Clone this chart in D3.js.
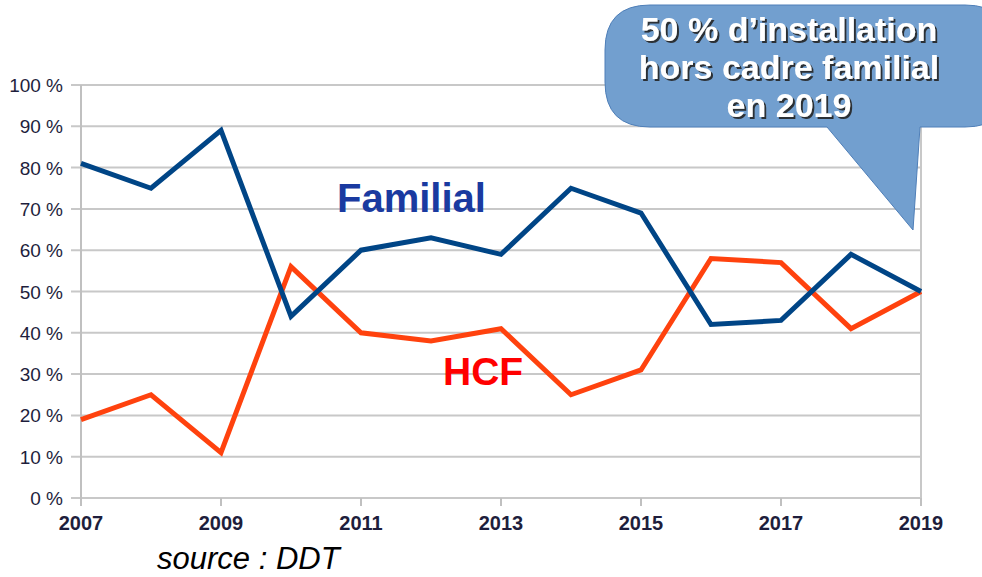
<!DOCTYPE html>
<html>
<head>
<meta charset="utf-8">
<script src="https://cdn.jsdelivr.net/npm/d3@7"></script>
<style>
  body { margin: 0; background: #fff; }
  svg { display: block; font-family: "Liberation Sans", Arial, sans-serif; }
</style>
</head>
<body>
<div id="container"></div>
<script>
// données
const years = [2007, 2008, 2009, 2010, 2011, 2012, 2013, 2014, 2015, 2016, 2017, 2018, 2019];
const familial = [81, 75, 89, 44, 60, 63, 59, 75, 69, 42, 43, 59, 50];
const hcf = [19, 25, 11, 56, 40, 38, 41, 25, 31, 58, 57, 41, 50];
const yTicks = [0, 10, 20, 30, 40, 50, 60, 70, 80, 90, 100];
const xTicks = [2007, 2009, 2011, 2013, 2015, 2017, 2019];
const calloutLines = ["50 % d\u2019installation", "hors cadre familial", "en 2019"];

// mise en page
const width = 982, height = 577;
const plot = { left: 81, right: 921, top: 85, bottom: 498 };

const x = d3.scaleLinear().domain([2007, 2019]).range([plot.left, plot.right]);
const y = d3.scaleLinear().domain([0, 100]).range([plot.bottom, plot.top]);

const svg = d3.select("#container").append("svg")
  .attr("width", width)
  .attr("height", height);

// ombre du texte de la bulle
svg.append("defs").append("filter")
  .attr("id", "ombre")
  .attr("x", "-5%").attr("y", "-20%")
  .attr("width", "110%").attr("height", "140%")
  .append("feDropShadow")
    .attr("dx", 2).attr("dy", 2)
    .attr("stdDeviation", 0.6)
    .attr("flood-color", "#222")
    .attr("flood-opacity", 0.9);

// grille horizontale
svg.append("g").selectAll("line")
  .data(yTicks)
  .enter().append("line")
    .attr("x1", plot.left - 10)
    .attr("x2", plot.right)
    .attr("y1", d => y(d))
    .attr("y2", d => y(d))
    .attr("stroke", "#c8c8c8")
    .attr("stroke-width", 2);

// axes verticaux (gauche et droite)
svg.append("line")
  .attr("x1", plot.left).attr("x2", plot.left)
  .attr("y1", plot.top).attr("y2", plot.bottom + 8)
  .attr("stroke", "#c0c0c0").attr("stroke-width", 2);
svg.append("line")
  .attr("x1", plot.right).attr("x2", plot.right)
  .attr("y1", plot.top).attr("y2", plot.bottom + 8)
  .attr("stroke", "#c8c8c8").attr("stroke-width", 2);

// graduations en x
svg.append("g").selectAll("line")
  .data(xTicks)
  .enter().append("line")
    .attr("x1", d => x(d)).attr("x2", d => x(d))
    .attr("y1", plot.bottom).attr("y2", plot.bottom + 8)
    .attr("stroke", "#c0c0c0").attr("stroke-width", 2);

// libellés y
svg.append("g").selectAll("text")
  .data(yTicks)
  .enter().append("text")
    .attr("x", 63)
    .attr("y", d => y(d) + 7)
    .attr("text-anchor", "end")
    .attr("font-size", 19)
    .attr("fill", "#1e1e3c")
    .text(d => d + " %");

// libellés x
svg.append("g").selectAll("text")
  .data(xTicks)
  .enter().append("text")
    .attr("x", d => x(d))
    .attr("y", 530)
    .attr("text-anchor", "middle")
    .attr("font-size", 20)
    .attr("font-weight", "bold")
    .attr("fill", "#1e1e3c")
    .text(d => d);

// courbes
const line = d3.line()
  .x((d, i) => x(years[i]))
  .y(d => y(d));

svg.append("path")
  .attr("d", line(hcf))
  .attr("fill", "none")
  .attr("stroke", "#ff420e")
  .attr("stroke-width", 5)
  .attr("stroke-linejoin", "miter");

svg.append("path")
  .attr("d", line(familial))
  .attr("fill", "none")
  .attr("stroke", "#004586")
  .attr("stroke-width", 5)
  .attr("stroke-linejoin", "miter");

// étiquettes des séries
svg.append("text")
  .attr("x", 337).attr("y", 212)
  .attr("font-size", 40)
  .attr("font-weight", "bold")
  .attr("fill", "#1a3aa0")
  .text("Familial");

svg.append("text")
  .attr("x", 443).attr("y", 385)
  .attr("font-size", 39)
  .attr("font-weight", "bold")
  .attr("fill", "#ff0000")
  .text("HCF");

// bulle
const bx0 = 605, bx1 = 1010, by0 = 5, by1 = 127, r = 45;
const tail = [[827, by1], [913, 230], [920, by1]];
const bubble = d3.path();
bubble.moveTo(bx0 + r, by0);
bubble.lineTo(bx1 - r, by0);
bubble.quadraticCurveTo(bx1, by0, bx1, by0 + r);
bubble.lineTo(bx1, by1 - r);
bubble.quadraticCurveTo(bx1, by1, bx1 - r, by1);
bubble.lineTo(tail[2][0], by1);
bubble.lineTo(tail[1][0], tail[1][1]);
bubble.lineTo(tail[0][0], by1);
bubble.lineTo(bx0 + r, by1);
bubble.quadraticCurveTo(bx0, by1, bx0, by1 - r);
bubble.lineTo(bx0, by0 + r);
bubble.quadraticCurveTo(bx0, by0, bx0 + r, by0);
bubble.closePath();

svg.append("path")
  .attr("d", bubble.toString())
  .attr("fill", "#729fcf")
  .attr("stroke", "#4f7fb8")
  .attr("stroke-width", 1);

svg.append("g").selectAll("text")
  .data(calloutLines)
  .enter().append("text")
    .attr("x", 789)
    .attr("y", (d, i) => 41 + i * 38)
    .attr("text-anchor", "middle")
    .attr("font-size", 34)
    .attr("font-weight", "bold")
    .attr("fill", "#ffffff")
    .attr("filter", "url(#ombre)")
    .text(d => d);

// source
svg.append("text")
  .attr("x", 157).attr("y", 569)
  .attr("font-size", 31)
  .attr("font-style", "italic")
  .attr("fill", "#000")
  .text("source : DDT");
</script>
</body>
</html>
